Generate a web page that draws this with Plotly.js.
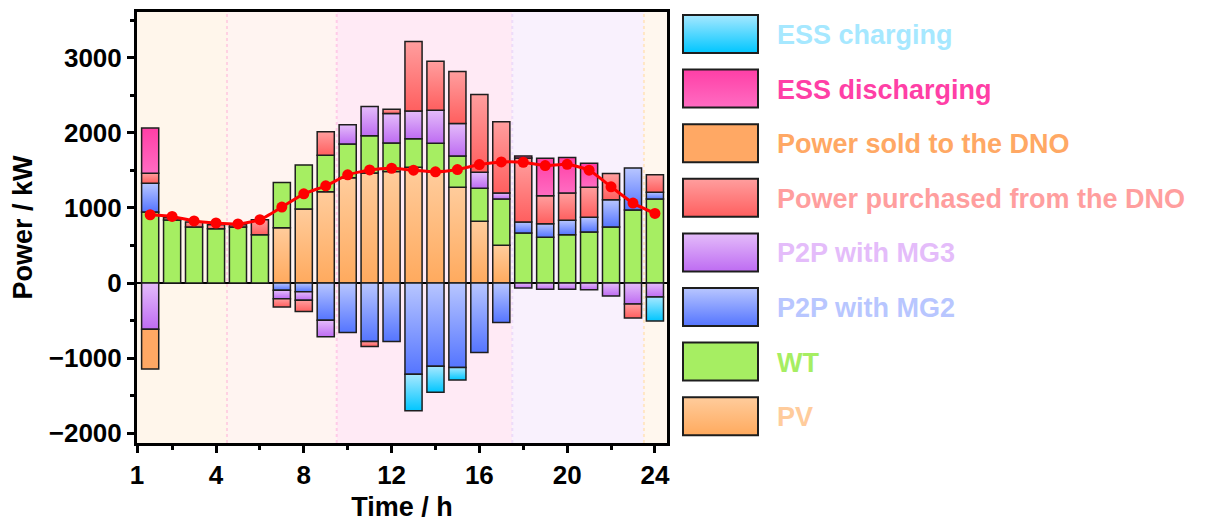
<!DOCTYPE html>
<html>
<head>
<meta charset="utf-8">
<script src="https://cdn.plot.ly/plotly-3.0.1.min.js"></script>
<style>html,body{margin:0;padding:0;background:#fff}</style>
</head>
<body>
<div id="chart" style="width:1210px;height:524px"></div>
<script>
// hourly power balance of the microgrid, values in kW
const hours = [1,2,3,4,5,6,7,8,9,10,11,12,13,14,15,16,17,18,19,20,21,22,23,24];
const pv          = [0,0,0,0,0,0,738,986,1216,1401,1467,1485,1543,1476,1277,822,504,0,0,0,0,0,0,0];
const wt          = [946,840,747,725,747,645,601,588,486,451,495,380,380,385,416,442,614,667,610,645,681,747,972,1118];
const p2pMG2      = [384,0,0,0,0,0,-97,-115,-495,-659,-778,-778,-1216,-1109,-1123,-924,-526,146,181,190,194,362,562,93];
const p2pMG3      = [-614,0,0,0,0,0,-111,-115,-221,256,389,394,367,442,433,212,80,-66,-84,-84,-88,-172,-278,-186];
const purchased   = [133,30,66,50,30,199,-110,-150,313,0,-66,57,928,650,690,1035,950,853,371,363,402,350,-186,230];
const sold        = [-531,0,0,0,0,0,0,0,0,0,0,0,0,0,0,0,0,0,0,0,0,0,0,0];
const discharging = [601,0,0,0,0,0,0,0,0,0,0,0,0,0,0,0,0,27,500,473,319,0,0,0];
const charging    = [0,0,0,0,0,0,0,0,0,0,0,0,-486,-345,-168,0,0,0,0,0,0,0,0,-318];
const load        = [910,888,827,800,787,844,1012,1189,1295,1441,1507,1529,1503,1481,1512,1578,1613,1609,1565,1582,1503,1282,1065,928];

const xTickVals = [0.4,4,8,12,16,20,24];
const xTickText = ['1','4','8','12','16','20','24'];

// stacking order, bottom first
const series = [
  {name:'PV', y:pv, top:'#FFCC9C', bot:'#FFAA5E', text:'#FFCC9C'},
  {name:'WT', y:wt, top:'#A6EE62', bot:'#A6EE62', text:'#A6EE62'},
  {name:'P2P with MG2', y:p2pMG2, top:'#B8C6FF', bot:'#5575FF', text:'#B8C6FF'},
  {name:'P2P with MG3', y:p2pMG3, top:'#E4BCFA', bot:'#BE6CF2', text:'#E4BCFA'},
  {name:'Power purchased from the DNO', y:purchased, top:'#FF9E9E', bot:'#FF5F5F', text:'#FF9E9E'},
  {name:'Power sold to the DNO', y:sold, top:'#FFA864', bot:'#FFA864', text:'#FFA864'},
  {name:'ESS discharging', y:discharging, top:'#FF3FA6', bot:'#FF6CC2', text:'#FF3FA6'},
  {name:'ESS charging', y:charging, top:'#A6E8FF', bot:'#00C6FF', text:'#A6E8FF'}
];

const bands = [0.4, 4.5, 9.5, 17.5, 23.5, 24.55];
const bandColors = ['#FFF6EB', '#FFF4F1', '#FFEAF5', '#F9F1FD', '#FFF7EE'];
const bandLines = ['#FFD2E2', '#FFCBE8', '#EEDCFA', '#FFE6C6'];

const font = 'Arial, "Liberation Sans", sans-serif';

let data = series.map(s => ({
  type: 'bar',
  x: hours,
  y: s.y.map(v => v === 0 ? null : v),
  name: s.name,
  width: 0.78,
  marker: {color: s.top, line: {color: '#1e1e1e', width: 1.5}},
  showlegend: false
}));

data.push({
  type: 'scatter',
  mode: 'lines+markers',
  x: hours,
  y: load,
  name: 'Load',
  line: {color: '#FF0000', width: 3, shape: 'spline', smoothing: 0.5},
  marker: {color: '#FF0000', size: 11},
  showlegend: false
});

// pixel helpers for the hand-made legend
const plotL = 137, plotR = 667, plotT = 12, plotB = 443;
const px = v => (v - plotL) / (plotR - plotL);
const py = v => (plotB - v) / (plotB - plotT);

let shapes = [];
for (let i = 0; i < bandColors.length; i++) {
  shapes.push({type:'rect', xref:'x', yref:'paper', x0:bands[i], x1:bands[i+1], y0:0, y1:1,
    fillcolor:bandColors[i], line:{width:0}, layer:'below'});
}
for (let i = 1; i < bands.length - 1; i++) {
  shapes.push({type:'line', xref:'x', yref:'paper', x0:bands[i], x1:bands[i], y0:0, y1:1,
    line:{color:bandLines[i-1], width:2, dash:'dot'}, layer:'below'});
}
const legendStart = shapes.length;
let annotations = [];
const legendOrder = series.slice().reverse();
legendOrder.forEach((s, k) => {
  const top = 15 + k * 54.6;
  shapes.push({type:'rect', xref:'paper', yref:'paper', x0:px(683), x1:px(758), y0:py(top + 38), y1:py(top),
    fillcolor:s.top, line:{color:'#1e1e1e', width:2}});
  annotations.push({xref:'paper', yref:'paper', x:px(775), y:py(top + 20), xanchor:'left', yanchor:'middle',
    text:s.name, showarrow:false, font:{family:font, size:27, weight:'bold', color:s.text}});
});

let layout = {
  width: 1210,
  height: 524,
  margin: {l: plotL, r: 1210 - plotR, t: plotT, b: 524 - plotB},
  paper_bgcolor: '#ffffff',
  plot_bgcolor: 'rgba(0,0,0,0)',
  barmode: 'relative',
  bargap: 0,
  font: {family: font, color: '#000'},
  xaxis: {
    range: [0.4, 24.55],
    tickmode: 'array',
    tickvals: xTickVals,
    ticktext: xTickText,
    ticks: 'outside', ticklen: 7, tickwidth: 3, tickcolor: '#000',
    minor: {tickmode: 'linear', tick0: 2, dtick: 4, ticks: 'outside', ticklen: 4, tickwidth: 3, tickcolor: '#000'},
    showline: true, linewidth: 3, linecolor: '#000', mirror: true,
    showgrid: false, zeroline: false,
    tickfont: {family: font, size: 26, weight: 'bold'},
    title: {text: 'Time / h', font: {family: font, size: 27, weight: 'bold'}, standoff: 8}
  },
  yaxis: {
    range: [-2130, 3610],
    tickvals: [-2000, -1000, 0, 1000, 2000, 3000],
    ticks: 'outside', ticklen: 7, tickwidth: 3, tickcolor: '#000',
    minor: {tickmode: 'linear', tick0: -1500, dtick: 1000, ticks: 'outside', ticklen: 4, tickwidth: 3, tickcolor: '#000'},
    showline: true, linewidth: 3, linecolor: '#000', mirror: true,
    showgrid: false,
    zeroline: true, zerolinecolor: '#000', zerolinewidth: 2.5,
    tickfont: {family: font, size: 26, weight: 'bold'},
    title: {text: 'Power / kW', font: {family: font, size: 27, weight: 'bold'}, standoff: 9}
  },
  shapes: shapes,
  annotations: annotations
};

Plotly.newPlot('chart', data, layout, {staticPlot: true, displayModeBar: false}).then(gd => {
  // vertical gradients on bars and legend swatches
  const ns = 'http://www.w3.org/2000/svg';
  const svg = gd.querySelector('.main-svg');
  let defs = svg.querySelector('defs');
  if (!defs) { defs = document.createElementNS(ns, 'defs'); svg.insertBefore(defs, svg.firstChild); }
  series.forEach((s, i) => {
    const g = document.createElementNS(ns, 'linearGradient');
    g.setAttribute('id', 'grad' + i);
    g.setAttribute('x1', '0'); g.setAttribute('y1', '0');
    g.setAttribute('x2', '0'); g.setAttribute('y2', '1');
    [[0, s.top], [1, s.bot]].forEach(([o, c]) => {
      const st = document.createElementNS(ns, 'stop');
      st.setAttribute('offset', o);
      st.setAttribute('stop-color', c);
      g.appendChild(st);
    });
    defs.appendChild(g);
  });
  gd.querySelectorAll('.barlayer .trace').forEach((tr, i) => {
    tr.querySelectorAll('.point path').forEach(p => { p.style.fill = 'url(#grad' + i + ')'; });
  });
  gd.querySelectorAll('.shapelayer path[data-index]').forEach(p => {
    const k = +p.getAttribute('data-index') - legendStart;
    if (k >= 0 && k < series.length) p.style.fill = 'url(#grad' + (series.length - 1 - k) + ')';
  });
});
</script>
</body>
</html>
